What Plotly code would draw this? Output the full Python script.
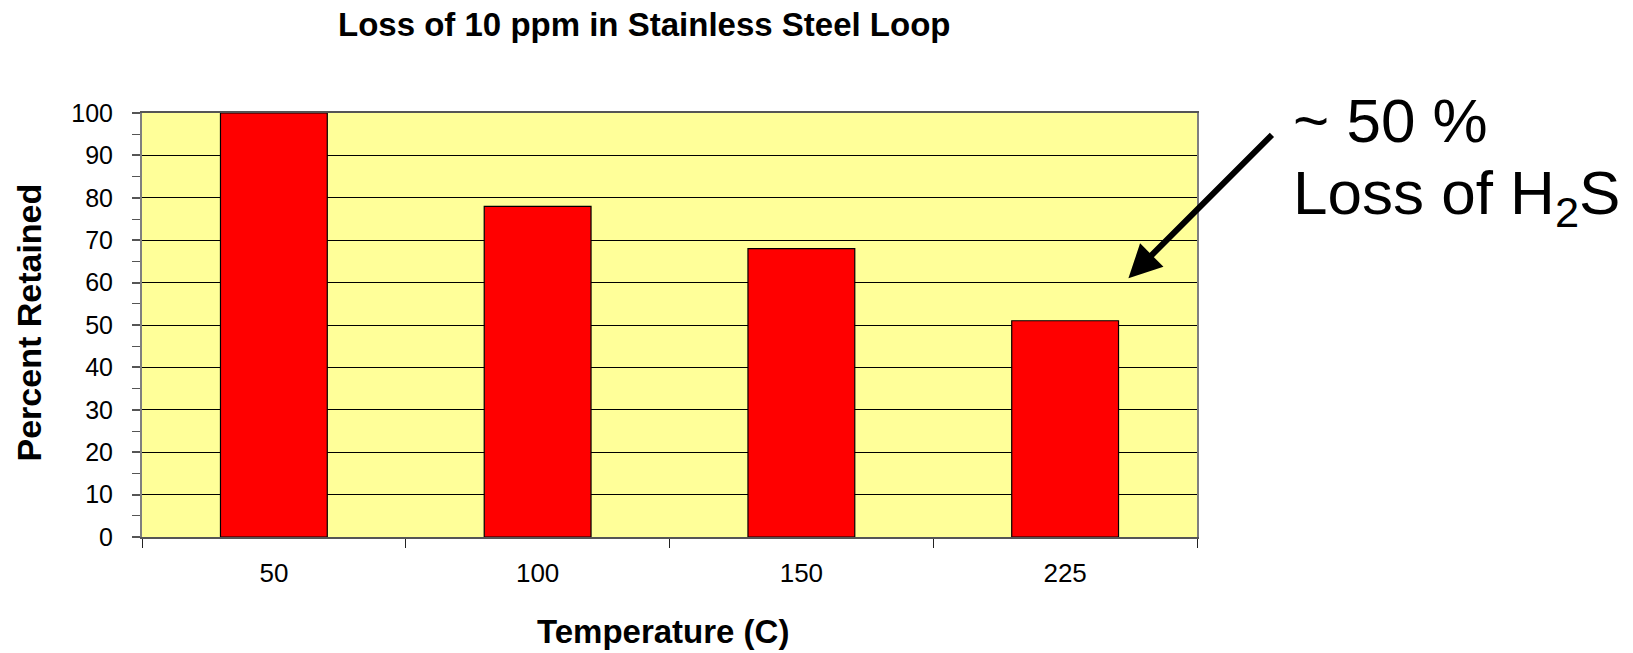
import plotly.graph_objects as go

# Percent of 10 ppm H2S retained in a stainless steel loop at each temperature
temperatures = ["50", "100", "150", "225"]
percent_retained = [100, 78, 68, 51]

FONT = "Liberation Sans, Arial, sans-serif"

fig = go.Figure(
    go.Bar(
        x=temperatures,
        y=percent_retained,
        marker=dict(color="#FF0000", line=dict(color="#000000", width=1.2)),
        hoverinfo="x+y",
    )
)

fig.update_layout(
    width=1633,
    height=653,
    margin=dict(l=142, r=436, t=113, b=116),
    paper_bgcolor="white",
    plot_bgcolor="#FFFF99",
    bargap=0.595,
    showlegend=False,
    font=dict(family=FONT, color="black", size=26),
)

fig.update_xaxes(
    type="category",
    tickson="boundaries",
    ticks="outside",
    ticklen=9,
    tickwidth=1.2,
    tickcolor="#222222",
    showline=True,
    linecolor="#555555",
    linewidth=2,
    mirror=True,
    showgrid=False,
    tickfont=dict(size=26),
    ticklabelstandoff=12,
)

fig.update_yaxes(
    range=[0, 100],
    dtick=10,
    ticks="outside",
    ticklen=8,
    tickwidth=1.5,
    tickcolor="#555555",
    showline=True,
    linecolor="#7f7f7f",
    linewidth=2,
    mirror=True,
    showgrid=True,
    gridcolor="#000000",
    gridwidth=1.2,
    zeroline=False,
    tickfont=dict(size=25),
    ticklabelstandoff=14,
    minor=dict(dtick=5, ticks="outside", ticklen=8, tickwidth=1.2,
               tickcolor="#555555", showgrid=False),
)

annotations = [
    # chart title
    dict(text="<b>Loss of 10 ppm in Stainless Steel Loop</b>", xref="paper", yref="paper",
         x=0.476, y=1.208, xanchor="center", yanchor="middle", showarrow=False,
         font=dict(size=33, family=FONT)),
    # axis titles
    dict(text="<b>Temperature (C)</b>", xref="paper", yref="paper",
         x=0.494, y=-0.2235, xanchor="center", yanchor="middle", showarrow=False,
         font=dict(size=33, family=FONT)),
    dict(text="<b>Percent Retained</b>", xref="paper", yref="paper",
         x=-0.1075, y=0.505, xanchor="center", yanchor="middle", textangle=-90,
         showarrow=False, font=dict(size=34, family=FONT)),
    # callout arrow pointing at the 225 C bar
    dict(text="", xref="paper", yref="y", x=0.935, y=61,
         showarrow=True, arrowhead=2, arrowsize=1.1, arrowwidth=6,
         arrowcolor="black", ax=145, ay=-145),
    # callout text
    dict(text="~ 50 %", xref="paper", yref="paper", x=1.0893, y=0.9816,
         xanchor="left", yanchor="middle", showarrow=False,
         font=dict(size=62, family=FONT)),
    dict(text="Loss of H<sub>2</sub>S", xref="paper", yref="paper", x=1.0893, y=0.8026,
         xanchor="left", yanchor="middle", showarrow=False,
         font=dict(size=62, family=FONT)),
]
fig.update_layout(annotations=annotations)

fig.write_html("out.html")
